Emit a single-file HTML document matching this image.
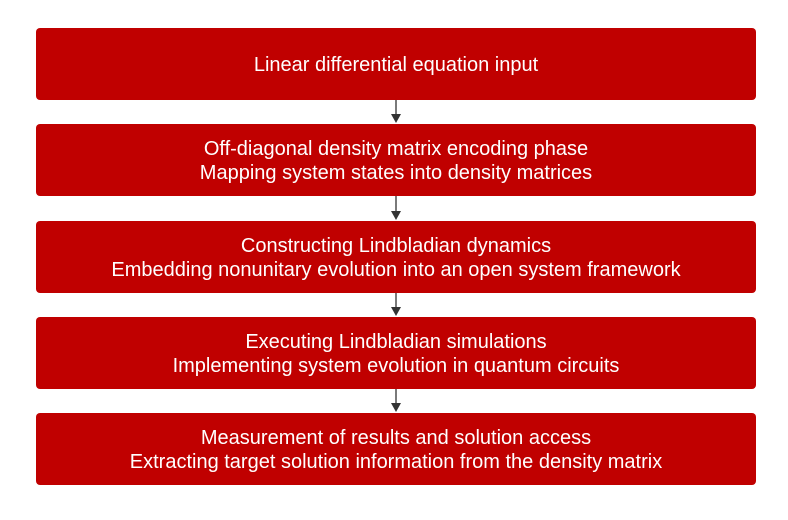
<!DOCTYPE html>
<html><head><style>
body{margin:0;width:788px;height:520px;background:#fff;position:relative;font-family:"Liberation Sans",sans-serif;}
.b{position:absolute;left:36px;width:720px;height:70px;padding-top:2px;background:#c00000;border-radius:4px;color:#fff;font-size:20px;line-height:24px;display:flex;flex-direction:column;justify-content:center;align-items:center;text-align:center;}
svg{position:absolute;left:0;top:0}
</style></head><body>
<div class="b" style="top:28px">Linear differential equation input</div>
<div class="b" style="top:124px">Off-diagonal density matrix encoding phase<br>Mapping system states into density matrices</div>
<div class="b" style="top:221px">Constructing Lindbladian dynamics<br>Embedding nonunitary evolution into an open system framework</div>
<div class="b" style="top:317px">Executing Lindbladian simulations<br>Implementing system evolution in quantum circuits</div>
<div class="b" style="top:413px">Measurement of results and solution access<br>Extracting target solution information from the density matrix</div>
<svg width="788" height="520">
<g stroke="#333" stroke-width="1.3" fill="#333">
<line x1="396" y1="100" x2="396" y2="116"/><polygon points="391,114 401,114 396,123" stroke="none"/>
<line x1="396" y1="196" x2="396" y2="213"/><polygon points="391,211 401,211 396,220" stroke="none"/>
<line x1="396" y1="293" x2="396" y2="309"/><polygon points="391,307 401,307 396,316" stroke="none"/>
<line x1="396" y1="389" x2="396" y2="405"/><polygon points="391,403 401,403 396,412" stroke="none"/>
</g></svg>
</body></html>
